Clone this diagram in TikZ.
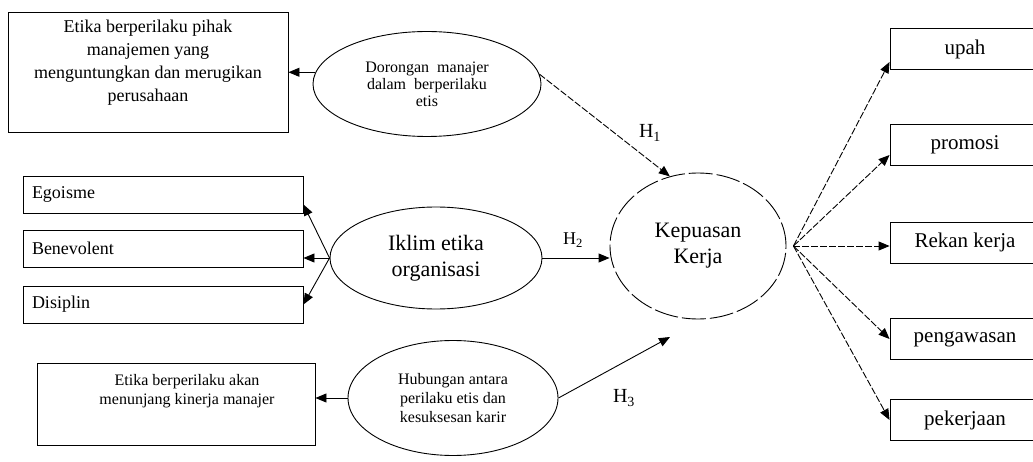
\documentclass[tikz,border=0pt]{standalone}
\usepackage{fontspec}
\setmainfont{Liberation Serif}
\usetikzlibrary{arrows.meta,shapes.geometric}
\begin{document}
\begin{tikzpicture}[x=1pt,y=-1pt,
  box/.style={draw, line width=0.9pt, inner sep=0pt},
  leftbox/.style={box, minimum width=280pt, minimum height=37pt, inner xsep=9pt, text width=262pt, align=left, font=\fontsize{18}{20}\selectfont},
  rightbox/.style={box, minimum width=150pt, minimum height=41pt, font=\fontsize{21}{24}\selectfont},
  oval/.style={draw, ellipse, line width=0.9pt, inner sep=0pt, align=center},
  arr/.style={line width=0.9pt, -{Triangle[length=11pt,width=9pt]}},
  dsh/.style={dash pattern=on 7pt off 2pt},
  hlab/.style={font=\fontsize{20}{20}\selectfont}
]
\useasboundingbox (0,0) rectangle (1033,462);
\fill[white] (0,0) rectangle (1033,462);

% left boxes
\node[box, minimum width=280pt, minimum height=120pt,
  label={[font=\fontsize{18}{23}\selectfont, align=center, yshift=9pt]center:Etika berperilaku pihak\\manajemen yang\\menguntungkan dan merugikan\\perusahaan}] (b1) at (148,72) {};
\node[leftbox] (ego) at (163,194.5) {Egoisme};
\node[leftbox] (ben) at (163,248.5) {Benevolent};
\node[leftbox] (dis) at (163,304.5) {Disiplin};
\node[box, minimum width=278pt, minimum height=82pt,
  label={[font=\fontsize{16}{19}\selectfont, align=center, xshift=11pt, yshift=13pt]center:Etika berperilaku akan\\menunjang kinerja manajer}] (b2) at (176,404) {};

% ovals
\node[oval, minimum width=228pt, minimum height=105pt, font=\fontsize{16}{17}\selectfont] (e1) at (427,84) {Dorongan\ \ manajer\\dalam\ \ berperilaku\\etis};
\node[oval, minimum width=212pt, minimum height=102pt, font=\fontsize{22}{26}\selectfont] (ik) at (436,258) {Iklim etika\\organisasi};
\node[oval, minimum width=210pt, minimum height=115pt, font=\fontsize{16}{19}\selectfont] (e3) at (453,398) {Hubungan antara\\perilaku etis dan\\kesuksesan karir};
\node[oval, dash pattern=on 24pt off 4pt, minimum width=176pt, minimum height=146pt, font=\fontsize{22}{26}\selectfont] (kep) at (698,246) {Kepuasan\\Kerja};

% right boxes
\node[rightbox] (up) at (965,49) {upah};
\node[rightbox] (pr) at (965,145) {promosi};
\node[rightbox] (rk) at (965,242.5) {Rekan kerja};
\node[rightbox] (pg) at (965,339) {pengawasan};
\node[rightbox] (pk) at (965,420) {pekerjaan};

% labels
\node[hlab] (h1) at (650,133) {H\textsubscript{1}};
\node[hlab, font=\fontsize{18}{18}\selectfont] (h2) at (573,240) {H\textsubscript{2}};
\node[hlab] (h3) at (624,398) {H\textsubscript{3}};

% connectors
\draw[arr] (e1.174) -- (b1.east |- e1.174);
\draw[arr] (ik.west) -- ([yshift=-10pt]ego.east);
\draw[arr] (ik.west) -- (ben.east |- ik.west);
\draw[arr] (ik.west) -- (dis.east);
\draw[arr] (e3.west) -- (b2.east |- e3.west);

\draw[arr, dsh] (e1.5) -- (kep.112);
\draw[arr] (ik.east) -- (kep.west |- ik.east);
\coordinate (h3end) at (670,337);
\draw[arr] (e3.east) -- (h3end);

\coordinate (kr) at ([xshift=7pt]kep.east);
\draw[arr, dsh] (kr) -- ([yshift=-13pt]up.west);
\draw[arr, dsh] (kr) -- ([yshift=-10pt]pr.west);
\draw[arr, dsh] (kr) -- (rk.west |- kr);
\draw[arr, dsh] (kr) -- (pg.west);
\draw[arr, dsh] (kr) -- (pk.west);
\end{tikzpicture}
\end{document}
